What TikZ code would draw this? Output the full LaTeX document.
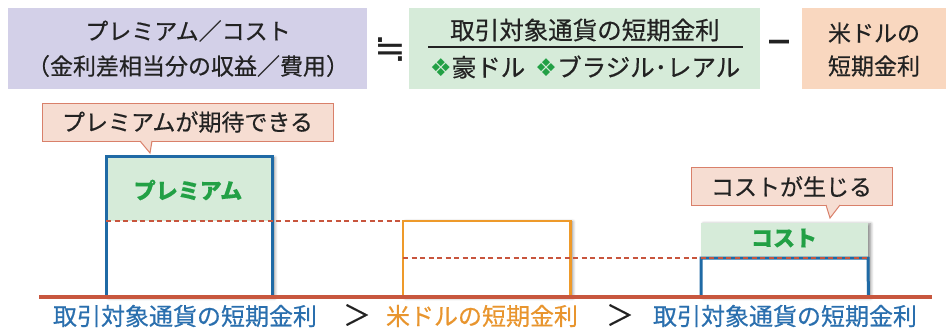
\documentclass[tikz,border=0pt]{standalone}
\usepackage{fontspec}
\setmainfont{Noto Sans CJK JP}[FakeBold=0.5]
\newfontfamily\symfont{DejaVu Sans}
\usetikzlibrary{shadows.blur}
\definecolor{lav}{HTML}{D3D0E8}
\definecolor{lgreen}{HTML}{D6EBD9}
\definecolor{peach}{HTML}{F9D7BF}
\definecolor{callfill}{HTML}{F6DDD2}
\definecolor{callline}{HTML}{D9806A}
\definecolor{boxblue}{HTML}{1F6AA5}
\definecolor{txtblue}{HTML}{2A6FAE}
\definecolor{txtgreen}{HTML}{22A045}
\definecolor{orng}{HTML}{EE9A2A}
\definecolor{txtorng}{HTML}{E8952E}
\definecolor{baseclr}{HTML}{C8573E}
\definecolor{dashred}{HTML}{C8553D}
\definecolor{ink}{HTML}{222222}
\begin{document}
\begin{tikzpicture}[x=1pt,y=-1pt,
  txt/.style={inner sep=0pt, font=\fontsize{23}{28}\selectfont, text=ink},
  bigtxt/.style={inner sep=0pt, font=\fontsize{24.5}{28}\selectfont, text=ink},
  topbox/.style={draw=none, inner sep=0pt, anchor=north west, minimum height=81pt},
  callbox/.style={draw=callline, line width=1pt, fill=callfill, inner sep=0pt, minimum height=38pt},
  bar/.style={draw=none, fill=white, inner sep=0pt, anchor=south west,
    blur shadow={shadow xshift=2.5pt, shadow yshift=-1pt, shadow blur radius=3pt, shadow opacity=45}},
  blueline/.style={draw=boxblue, line width=3pt},
  orangeline/.style={draw=orng, line width=2.2pt},
  reddash/.style={draw=dashred, line width=2pt, dash pattern=on 5pt off 3.5pt},
  bartxt/.style={inner sep=0pt, font=\fontsize{22}{26}\selectfont\bfseries, text=txtgreen}
]
\useasboundingbox (0,0) rectangle (948,333);

% ---------- formula row ----------
\node[topbox, fill=lav, minimum width=359pt] (pbox) at (8,8) {};
\node[topbox, fill=lgreen, minimum width=351pt] (gbox) at (409,8) {};
\node[topbox, fill=peach, minimum width=144pt] (obox) at (802,8) {};

\node[txt] (p1) at (188,31) {プレミアム／コスト};
\node[txt] (p2) at (188,66) {（金利差相当分の収益／費用）};
\node[inner sep=0pt, font=\symfont\fontsize{38}{40}\selectfont, text=ink] (approx) at (390,50) {≒};
\node[bigtxt] (g1) at (585,30) {取引対象通貨の短期金利};
\coordinate (fl) at (428,47);
\coordinate (fr) at (743,47);
\draw[ink, line width=1.2pt] (fl) -- (fr);
\node[bigtxt] (g2) at (585,67) {{\symfont\color{txtgreen}❖}豪ドル\hspace{10pt}{\symfont\color{txtgreen}❖}ブラジル･レアル};
\node[txt, font=\fontsize{28}{32}\selectfont\bfseries] (minus) at (779,46) {－};
\node[txt] (o1) at (874,33) {米ドルの};
\node[txt] (o2) at (874,66) {短期金利};

% ---------- bars ----------
\node[bar, minimum width=166pt, minimum height=140pt] (prem) at (106,297) {};
\fill[lgreen] (106,157) rectangle (272,220.5);
\draw[blueline] (prem.south west) -- (prem.north west) -- (prem.north east) -- (prem.south east);
\node[bartxt] (premt) at (188,190) {プレミアム};

\node[bar, minimum width=167pt, minimum height=76pt] (usd) at (403,297) {};
\draw[orangeline] (usd.south west) -- (usd.north west) -- (usd.north east) -- (usd.south east);

\node[bar, minimum width=167pt, minimum height=74pt] (cost) at (701,297) {};
\fill[lgreen] (701,223) rectangle (868,258);
\coordinate (cl) at (701,258);
\coordinate (cr) at (868,258);
\draw[blueline] (cost.south west) -- (cl) -- (cr) -- (cost.south east);
\node[bartxt] (costt) at (784,238) {コスト};

% dashed rate levels
\coordinate (d1a) at (106,220.5);
\coordinate (d1b) at (403,220.5);
\draw[reddash] (d1a) -- (d1b);
\coordinate (d2a) at (403,258);
\coordinate (d2b) at (868,258);
\draw[reddash] (d2a) -- (d2b);

% baseline
\coordinate (bl) at (39,297);
\coordinate (br) at (932,297);
\draw[baseclr, line width=4.5pt] (bl) -- (br);

% ---------- callouts ----------
\node[callbox, minimum width=291pt, txt] (c1) at (187.5,122) {プレミアムが期待できる};
\coordinate (c1tip) at (150,153);
\fill[callfill] (140,140) -- (c1tip) -- (152,140) -- cycle;
\draw[callline, line width=1pt] (140,141) -- (c1tip) -- (152,141);

\node[callbox, minimum width=201pt, txt] (c2) at (791.5,186.5) {コストが生じる};
\coordinate (c2tip) at (830,218);
\fill[callfill] (826,204.5) -- (c2tip) -- (840,204.5) -- cycle;
\draw[callline, line width=1pt] (826,205) -- (c2tip) -- (840,205);

% ---------- bottom labels ----------
\node[txt, text=txtblue, font=\fontsize{24}{28}\selectfont] (l1) at (185,316) {取引対象通貨の短期金利};
\node[txt, font=\fontsize{28}{30}\selectfont] (gt1) at (357,315) {＞};
\node[txt, text=txtorng, font=\fontsize{24}{28}\selectfont] (l2) at (482,316) {米ドルの短期金利};
\node[txt, font=\fontsize{28}{30}\selectfont] (gt2) at (620,315) {＞};
\node[txt, text=txtblue, font=\fontsize{24}{28}\selectfont] (l3) at (785,316) {取引対象通貨の短期金利};
\end{tikzpicture}
\end{document}
